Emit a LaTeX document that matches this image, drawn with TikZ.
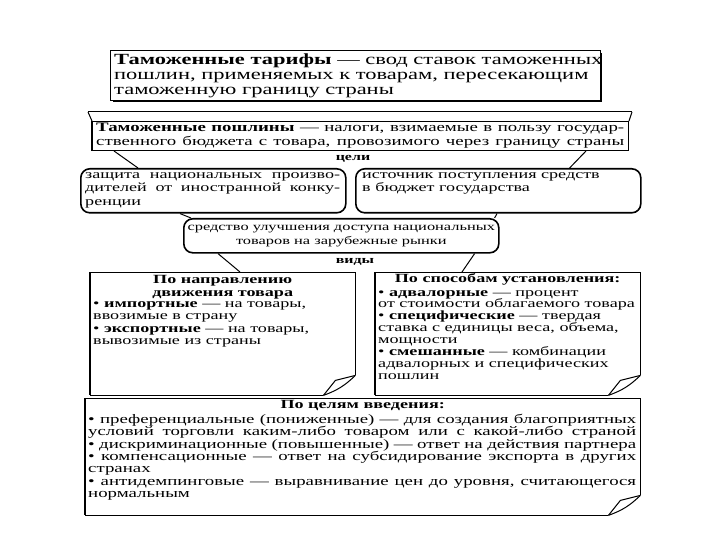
\documentclass[tikz,border=0pt]{standalone}
\usepackage{fontspec}
\setmainfont{Liberation Serif}[FakeStretch=1.45]
\usetikzlibrary{calc}
\begin{document}
\begin{tikzpicture}[x=1pt,y=-1pt,
  frame/.style={inner sep=0pt, anchor=north west},
  sq/.style={frame, draw, line width=1pt},
  rbox/.style={frame, draw, line width=1.6pt, rounded corners=9pt},
  txt/.style={inner sep=0pt, anchor=north west, align=left, font=\fontsize{12.5}{12.5}\selectfont},
  conn/.style={line width=1pt},
  lab/.style={inner sep=0pt, font=\fontsize{11}{11}\selectfont\bfseries},
  curl/.style={line width=1pt}
]
\useasboundingbox (0,0) rectangle (720,540);

% box 1: tariffs
\node[sq, minimum width=490pt, minimum height=50pt] (tar) at (110,50) {};
\draw[line width=2.4pt] ([yshift=-3pt]tar.north east) -- (tar.south east) -- ([xshift=3pt]tar.south west);
\node[txt, font=\fontsize{15.5}{15}\selectfont] (tartxt) at (114,54)
  {\textbf{Таможенные тарифы} — свод ставок таможенных\\пошлин, применяемых к товарам, пересекающим\\таможенную границу страны};

% box 2: duties
\node[sq, minimum width=536pt, minimum height=29pt] (pos) at (92,121) {};
\draw[line width=2.2pt] (pos.north west) -- (pos.south west);
\coordinate (rl) at (88,112);
\coordinate (rr) at (632,112);
\draw[conn] (rl) -- (rr);
\draw[conn] (rl) -- (pos.north west);
\draw[conn] (rr) -- (pos.north east);
\node[txt, font=\fontsize{13}{14}\selectfont] (postxt) at (96,123)
  {\makebox[528pt][s]{\textbf{Таможенные пошлины} — налоги, взимаемые в пользу государ-}\\
   \makebox[528pt][s]{ственного бюджета с товара, провозимого через границу страны}};

\node[lab] (celi) at (353,159) {цели};

% goals
\node[rbox, minimum width=265pt, minimum height=44pt] (A) at (80,168) {};
\node[txt, font=\fontsize{12.5}{13.5}\selectfont] (Atxt) at (85,172)
  {\makebox[255pt][s]{защита национальных произво-}\\
   \makebox[255pt][s]{дителей от иностранной конку-}\\ренции};
\node[rbox, minimum width=285pt, minimum height=44pt] (B) at (355,168) {};
\node[txt, font=\fontsize{12.5}{13.5}\selectfont] (Btxt) at (362,172)
  {источник поступления средств\\в бюджет государства};
\node[rbox, minimum width=315pt, minimum height=34pt] (C) at (183,218) {};
\node[txt, anchor=center, align=center, font=\fontsize{11.3}{14}\selectfont] (Ctxt) at (C.center)
  {средство улучшения доступа национальных\\товаров на зарубежные рынки};

\draw[conn] ([xshift=22pt]pos.south west) -- ([xshift=58pt]A.north west);
\draw[conn] ([xshift=-43pt]pos.south east) -- ([xshift=-72pt]B.north east);
\draw[conn] ([xshift=100pt]A.south west) -- ([xshift=8pt]C.north west);
\draw[conn] ([xshift=142pt]B.south west) -- ([xshift=-5pt]C.north east);

\node[lab] (vidy) at (355,262) {виды};

% kinds boxes (with curled corner)
\node[frame, minimum width=265pt, minimum height=123pt] (D) at (90,272) {};
\node[frame, minimum width=265pt, minimum height=123pt] (E) at (375,272) {};
\node[frame, minimum width=555pt, minimum height=117pt] (F) at (85,398) {};
\foreach \b in {D,E,F}{
  \draw[line width=1pt] ([yshift=20pt]\b.south east) -- (\b.north east) -- (\b.north west) -- (\b.south west) -- ([xshift=-32pt]\b.south east);
  \draw[line width=2pt] (\b.north west) -- (\b.south west);
  \draw[curl] ([xshift=-32pt]\b.south east) -- ([xshift=-20pt,yshift=15pt]\b.south east) -- ([yshift=20pt]\b.south east);
  \draw[curl] ([xshift=-32pt]\b.south east) to[bend right=12] ([yshift=20pt]\b.south east);
}

\draw[conn] ([xshift=35pt]C.south west) -- ([xshift=150pt]D.north west);
\draw[conn] ([xshift=-25pt]C.south east) -- ([xshift=87pt]E.north west);

\node[txt, anchor=north, align=center, font=\fontsize{12.5}{12.7}\selectfont\bfseries] (Dt) at ([yshift=-3pt]D.north)
  {По направлению\\движения товара};
\node[txt] (Db) at (93,301)
  {\textbullet\ \textbf{импортные} — на товары,\\ввозимые в страну\\
   \textbullet\ \textbf{экспортные} — на товары,\\вывозимые из страны};

\node[txt, anchor=north, align=center, font=\fontsize{12.5}{12.5}\selectfont\bfseries] (Et) at ([yshift=-1pt]E.north)
  {По способам установления:};
\node[txt, font=\fontsize{12.5}{11.9}\selectfont] (Eb) at (378,290)
  {\textbullet\ \textbf{адвалорные} — процент\\от стоимости облагаемого товара\\
   \textbullet\ \textbf{специфические} — твердая\\ставка с единицы веса, объема,\\мощности\\
   \textbullet\ \textbf{смешанные} — комбинации\\адвалорных и специфических\\пошлин};

\node[txt, anchor=north, align=center, font=\fontsize{12.5}{12.5}\selectfont\bfseries] (Ft) at ([yshift=-2pt]F.north)
  {По целям введения:};
\node[txt, font=\fontsize{13}{12.3}\selectfont] (Fb) at (88,414)
  {\makebox[548pt][s]{\textbullet\ преференциальные (пониженные) — для создания благоприятных}\\
   \makebox[548pt][s]{условий торговли каким-либо товаром или с какой-либо страной}\\
   \makebox[548pt][s]{\textbullet\ дискриминационные (повышенные) — ответ на действия партнера}\\
   \makebox[548pt][s]{\textbullet\ компенсационные — ответ на субсидирование экспорта в других}\\
   странах\\
   \makebox[548pt][s]{\textbullet\ антидемпинговые — выравнивание цен до уровня, считающегося}\\
   нормальным};
\end{tikzpicture}
\end{document}
